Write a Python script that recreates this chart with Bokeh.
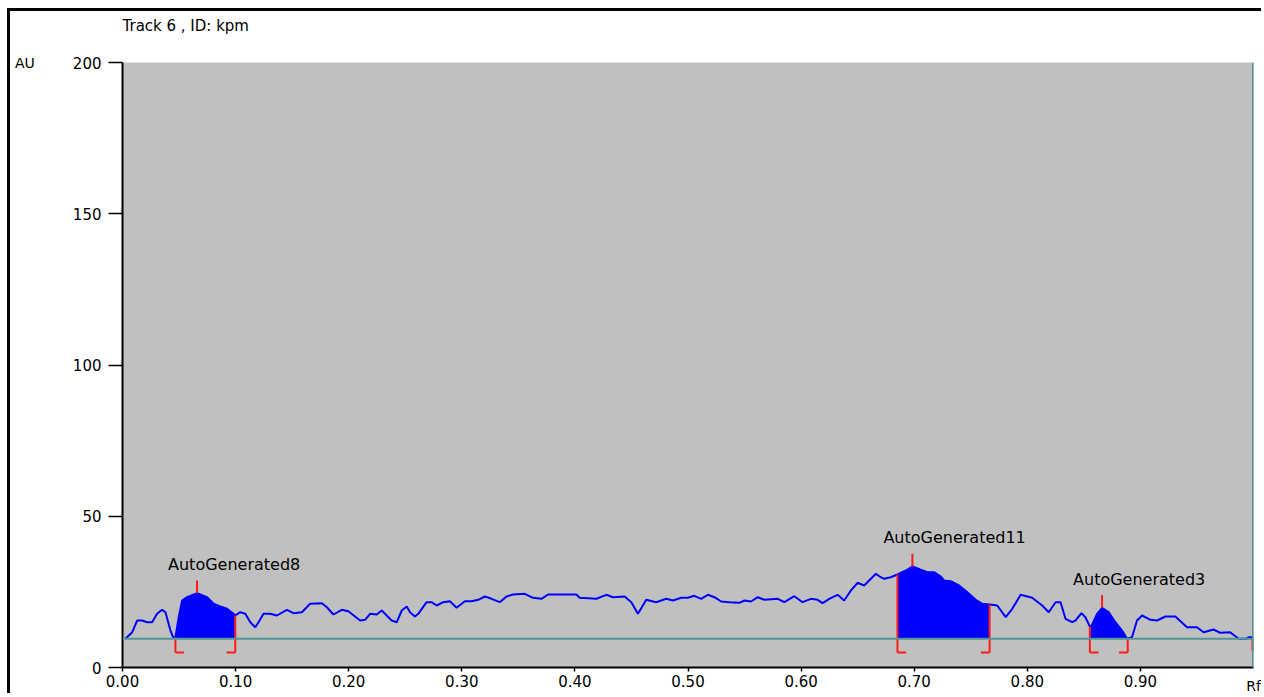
import numpy as np
from bokeh.plotting import figure
from bokeh.models import Range1d, FixedTicker, Span, PrintfTickFormatter
from bokeh.core.properties import value
from bokeh.embed import file_html
from bokeh.resources import INLINE

# ---- data ----
rf = [0.0026, 0.0086, 0.0130, 0.0174, 0.0218, 0.0262, 0.0306, 0.0350, 0.0380, 0.0424,
      0.0447, 0.0468, 0.0497, 0.0527, 0.0571, 0.0659, 0.0748, 0.0806, 0.0865, 0.0924,
      0.0982, 0.0997, 0.1041, 0.1086, 0.1130, 0.1174, 0.1203, 0.1247, 0.1306, 0.1365,
      0.1454, 0.1512, 0.1586, 0.1659, 0.1763, 0.1807, 0.1865, 0.1939, 0.1997, 0.2101,
      0.2145, 0.2189, 0.2248, 0.2292, 0.2380, 0.2425, 0.2469, 0.2513, 0.2542, 0.2586,
      0.2615, 0.2689, 0.2733, 0.2778, 0.2836, 0.2895, 0.2954, 0.3027, 0.3086, 0.3145,
      0.3204, 0.3263, 0.3336, 0.3395, 0.3454, 0.3557, 0.3630, 0.3704, 0.3763, 0.4013,
      0.4042, 0.4190, 0.4278, 0.4336, 0.4440, 0.4499, 0.4557, 0.4601, 0.4631, 0.4719,
      0.4808, 0.4866, 0.4940, 0.4998, 0.5057, 0.5116, 0.5175, 0.5234, 0.5293, 0.5366,
      0.5454, 0.5499, 0.5558, 0.5616, 0.5675, 0.5793, 0.5852, 0.5940, 0.6013, 0.6087,
      0.6146, 0.6190, 0.6249, 0.6322, 0.6381, 0.6440, 0.6499, 0.6558, 0.6617, 0.6661,
      0.6705, 0.6734, 0.6793, 0.6852, 0.6926, 0.6984, 0.7058, 0.7117, 0.7176, 0.7235,
      0.7264, 0.7323, 0.7396, 0.7470, 0.7544, 0.7602, 0.7667, 0.7734, 0.7809, 0.7867,
      0.7941, 0.8043, 0.8132, 0.8190, 0.8250, 0.8294, 0.8338, 0.8396, 0.8426, 0.8479,
      0.8514, 0.8559, 0.8617, 0.8661, 0.8720, 0.8779, 0.8838, 0.8882, 0.8926, 0.8970,
      0.9015, 0.9089, 0.9147, 0.9221, 0.9309, 0.9412, 0.9500, 0.9559, 0.9647, 0.9706,
      0.9794, 0.9868, 0.9938, 0.9956, 1.0000]
au = [9.49, 11.67, 15.54, 15.54, 14.98, 14.98, 17.75, 19.07, 18.28, 12.23,
      10.02, 10.02, 16.63, 22.15, 23.24, 24.56, 23.24, 21.06, 20.17, 19.40,
      17.75, 17.19, 18.28, 17.75, 14.98, 13.32, 14.98, 17.75, 17.75, 17.19,
      19.07, 17.95, 18.28, 21.06, 21.26, 19.93, 17.52, 19.07, 18.61, 15.54,
      15.77, 17.75, 17.52, 18.84, 15.54, 14.98, 18.84, 20.17, 18.28, 16.86,
      17.75, 21.59, 21.59, 20.50, 21.59, 21.92, 19.74, 21.92, 21.92, 22.38,
      23.47, 22.71, 21.59, 23.47, 24.13, 24.36, 23.04, 22.71, 24.13, 24.13,
      23.04, 22.71, 24.03, 23.24, 23.47, 21.59, 17.75, 20.50, 22.38, 21.59,
      22.71, 22.15, 23.04, 23.04, 23.70, 22.71, 24.03, 23.24, 21.82, 21.59,
      21.39, 22.15, 21.82, 23.24, 22.38, 22.71, 21.59, 23.57, 21.59, 22.71,
      22.38, 21.26, 22.71, 24.03, 22.15, 25.45, 28.00, 27.11, 29.32, 30.98,
      29.85, 29.32, 29.85, 30.74, 32.07, 33.39, 32.30, 31.50, 31.50, 30.08,
      28.76, 28.53, 27.11, 24.89, 22.38, 21.06, 20.83, 20.50, 16.63, 19.40,
      24.03, 23.04, 20.50, 18.28, 21.59, 21.59, 16.10, 14.98, 15.54, 17.95,
      16.63, 13.12, 17.75, 19.74, 18.28, 14.98, 12.23, 9.49, 10.02, 15.54,
      17.19, 15.77, 15.54, 16.86, 16.86, 13.32, 13.32, 11.67, 12.56, 11.47,
      11.67, 9.49, 9.49, 10.02, 10.02]
baseline = 9.5
peak_names = ["AutoGenerated8", "AutoGenerated11", "AutoGenerated3"]
peak_start = [0.0468, 0.6852, 0.8553]
peak_end = [0.0997, 0.7667, 0.8888]
peak_max = [0.0659, 0.6984, 0.8661]
edge_marker = [1.0]
x_ticks = [0.0, 0.1, 0.2, 0.3, 0.4, 0.5, 0.6, 0.7, 0.8, 0.9]
y_ticks = [0, 50, 100, 150, 200]
title_text = "Track  6 , ID: kpm"
y_name = "AU"
x_name = "Rf"

# ---- styles ----
BLUE = "#0000ff"
RED = "#ff1a1a"
TEAL = "#4f9696"
GRAY = "#c0c0c0"
FONT = "DejaVu Sans"
bracket_low = 5.0
foot = 0.0077
marker_len = 4.2

p = figure(width=1254, height=685, output_backend="svg", toolbar_location=None,
           x_range=Range1d(0, 1.0), y_range=Range1d(0, 200),
           min_border_left=112, min_border_right=11, min_border_top=51, min_border_bottom=29,
           background_fill_color=GRAY, border_fill_color="white", outline_line_color=None)
p.styles = {"border-left": "3px solid black", "border-top": "3px solid black",
            "margin-left": "7px", "margin-top": "8px"}
p.grid.visible = False

# title
p.title.text = title_text
p.title.align = "left"
p.title.text_font = FONT
p.title.text_font_size = "15px"
p.title.text_font_style = "normal"
p.title.text_color = "black"
p.title.standoff = 0
p.title.padding = (0, 0, 0, 28)

# fills of integrated peaks
rf_a = np.array(rf)
au_a = np.array(au)
for s, e in zip(peak_start, peak_end):
    inner = rf_a[(rf_a > s) & (rf_a < e)]
    xs = np.concatenate([[s], inner, [e]])
    ys = np.interp(xs, rf_a, au_a)
    p.varea(x=xs, y1=np.full(len(xs), baseline), y2=ys, fill_color=BLUE, fill_alpha=1.0)

# baseline and right edge
p.add_layout(Span(location=baseline, dimension="width", line_color=TEAL, line_width=2))
p.add_layout(Span(location=1.0, dimension="height", line_color=TEAL, line_width=3))

# trace
p.line(rf, au, line_color=BLUE, line_width=2)

# red brackets and peak markers
s_top = np.interp(peak_start, rf_a, au_a)
e_top = np.interp(peak_end, rf_a, au_a)
m_top = np.interp(peak_max, rf_a, au_a)
ps = np.array(peak_start)
pe = np.array(peak_end)
low = [bracket_low] * len(ps)
p.segment(x0=ps, y0=low, x1=ps, y1=s_top, line_color=RED, line_width=2)
p.segment(x0=ps, y0=low, x1=ps + foot, y1=low, line_color=RED, line_width=2)
p.segment(x0=pe, y0=low, x1=pe, y1=e_top, line_color=RED, line_width=2)
p.segment(x0=pe - foot, y0=low, x1=pe, y1=low, line_color=RED, line_width=2)
p.segment(x0=peak_max, y0=m_top, x1=peak_max, y1=m_top + marker_len, line_color=RED, line_width=2)
p.segment(x0=edge_marker, y0=[bracket_low + 0.5], x1=edge_marker, y1=[baseline],
          line_color=RED, line_width=4)

# peak names
p.text(x=peak_max, y=m_top, text=peak_names, x_offset=-29, y_offset=-19,
       text_align="left", text_baseline="bottom", text_color="black",
       text_font=value(FONT), text_font_size="16px")

# axes
p.xaxis.ticker = FixedTicker(ticks=x_ticks)
p.xaxis.formatter = PrintfTickFormatter(format="%.2f")
p.yaxis.ticker = FixedTicker(ticks=y_ticks)
for ax in (p.xaxis[0], p.yaxis[0]):
    ax.axis_line_color = "black"
    ax.axis_line_width = 2
    ax.major_tick_line_color = "black"
    ax.major_tick_line_width = 1.5
    ax.major_tick_in = 0
    ax.minor_tick_in = 0
    ax.minor_tick_out = 0
    ax.major_label_text_font = FONT
    ax.major_label_text_font_size = "15px"
    ax.major_label_text_color = "black"
    ax.axis_label_text_font = FONT
    ax.axis_label_text_font_size = "14px"
    ax.axis_label_text_font_style = "normal"
    ax.axis_label_text_color = "black"
    ax.axis_label_orientation = "horizontal"
    ax.axis_label_align = "end"
p.xaxis.major_tick_out = 4
p.xaxis.major_label_standoff = 3
p.xaxis.axis_label = x_name
p.xaxis.axis_label_standoff = -12
p.yaxis.major_tick_out = 14
p.yaxis.major_label_standoff = 7
p.yaxis.axis_label = y_name
p.yaxis.axis_label_standoff = 35

open("out.html", "w").write(file_html(p, INLINE))
